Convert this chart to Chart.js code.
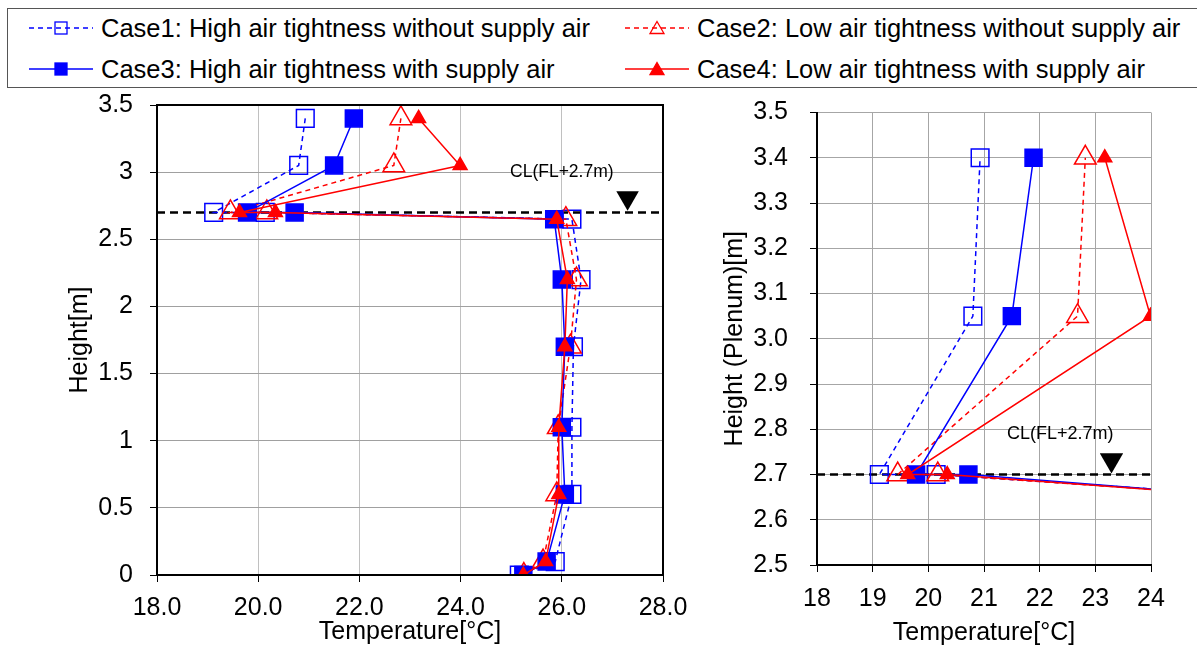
<!DOCTYPE html>
<html>
<head>
<meta charset="utf-8">
<script src="https://cdn.jsdelivr.net/npm/chart.js@4.4.1/dist/chart.umd.min.js"></script>
<style>
  body { margin: 0; background: #fff; width: 1197px; height: 649px; overflow: hidden; position: relative;
         font-family: "Liberation Sans", Arial, sans-serif; }
  #legendBox { position: absolute; left: 7px; top: 8px; width: 1200px; height: 80px;
               border: 1.5px solid #555; box-sizing: border-box; }
  .item { position: absolute; height: 30px; display: flex; align-items: center;
          font-size: 25.5px; color: #000; white-space: nowrap; }
  .item svg { margin-right: 6px; }
  canvas { position: absolute; }
</style>
</head>
<body>
<div id="legendBox"></div>
<div id="legend"></div>
<canvas id="left" width="700" height="559" style="left:0;top:90px"></canvas>
<canvas id="right" width="497" height="559" style="left:700px;top:90px"></canvas>
<script>
// Measurement heights (same for all four cases), bottom to top
const heights = [0, 0.1, 0.6, 1.1, 1.7, 2.2, 2.65, 2.7, 2.7, 3.05, 3.4];

// Temperatures [°C] read per case
const case1Temp = [25.16, 25.87, 26.2, 26.2, 26.23, 26.38, 26.2, 20.14, 19.12, 20.8, 20.93];
const case2Temp = [25.25, 25.63, 25.9, 25.93, 26.17, 26.29, 26.08, 20.17, 19.45, 22.68, 22.82];
const case3Temp = [25.24, 25.7, 26.06, 26.0, 26.06, 26.0, 25.85, 20.72, 19.78, 21.5, 21.89];
const case4Temp = [25.24, 25.68, 25.94, 25.94, 26.06, 26.11, 25.9, 20.34, 19.63, 23.99, 23.17];

const seriesNames = [
    'Case1: High air tightness without supply air',
    'Case2: Low air tightness without supply air',
    'Case3: High air tightness with supply air',
    'Case4: Low air tightness with supply air'
];

// Ceiling level marker
const clHeight = 2.7;
const clLabel = 'CL(FL+2.7m)';

// Axis ticks
const leftXTicks = [18, 20, 22, 24, 26, 28];
const leftYTicks = [0, 0.5, 1, 1.5, 2, 2.5, 3, 3.5];
const rightXTicks = [18, 19, 20, 21, 22, 23, 24];
const rightYTicks = [2.5, 2.6, 2.7, 2.8, 2.9, 3.0, 3.1, 3.2, 3.3, 3.4, 3.5];

const FONT = 'Liberation Sans';
Chart.defaults.font.family = FONT;
Chart.defaults.color = '#000';

// Look of each case
const styles = [
    { color: '#0000ff', dashed: true,  pointStyle: 'rect',     filled: false, radius: 12.5, order: 3 },
    { color: '#ff0000', dashed: true,  pointStyle: 'triangle', filled: false, radius: 12.5, order: 2 },
    { color: '#0000ff', dashed: false, pointStyle: 'rect',     filled: true,  radius: 12,   order: 1 },
    { color: '#ff0000', dashed: false, pointStyle: 'triangle', filled: true,  radius: 8,    order: 0 }
];
const temps = [case1Temp, case2Temp, case3Temp, case4Temp];

function seriesDatasets() {
    return temps.map((t, i) => {
        const s = styles[i];
        return {
            label: seriesNames[i],
            data: t.map((x, k) => ({ x: x, y: heights[k] })),
            showLine: true,
            borderColor: s.color,
            borderWidth: 1.5,
            borderDash: s.dashed ? [5, 4] : [],
            pointStyle: s.pointStyle,
            pointRadius: s.radius,
            pointHoverRadius: s.radius,
            pointBorderWidth: 1.5,
            pointBorderColor: s.color,
            pointBackgroundColor: s.filled ? s.color : 'rgba(255,255,255,0)',
            order: s.order
        };
    });
}

function clDatasets(xMin, xMax, markX, markY, markR) {
    return [
        {
            label: 'CL',
            data: [{ x: xMin, y: clHeight }, { x: xMax, y: clHeight }],
            showLine: true,
            borderColor: '#000',
            borderWidth: 2.5,
            borderDash: [8, 5],
            pointRadius: 0,
            order: 10
        },
        {
            label: 'CL marker',
            data: [{ x: markX, y: markY }],
            pointStyle: 'triangle',
            rotation: 180,
            pointRadius: markR,
            pointBackgroundColor: '#000',
            pointBorderColor: '#000',
            pointBorderWidth: 0,
            order: 9
        }
    ];
}

// Text label for the ceiling level
const clTextPlugin = {
    id: 'clText',
    afterDatasetsDraw(chart, args, opts) {
        const ctx = chart.ctx;
        ctx.save();
        ctx.font = opts.size + 'px "' + FONT + '"';
        ctx.fillStyle = '#000';
        ctx.textAlign = 'center';
        ctx.textBaseline = 'middle';
        ctx.fillText(clLabel, chart.scales.x.getPixelForValue(opts.x), chart.scales.y.getPixelForValue(opts.y));
        ctx.restore();
    }
};

// Black frame around the left plot
const framePlugin = {
    id: 'frame',
    afterDraw(chart, args, opts) {
        if (!opts.on) return;
        const a = chart.chartArea;
        const ctx = chart.ctx;
        ctx.save();
        ctx.strokeStyle = '#000';
        ctx.lineWidth = 2;
        ctx.strokeRect(a.left, a.top, a.right - a.left, a.bottom - a.top);
        ctx.restore();
    }
};

function axes(cfg) {
    const tickFont = { size: 25, family: FONT };
    return {
        x: {
            type: 'linear', min: cfg.xMin, max: cfg.xMax,
            afterBuildTicks: s => { s.ticks = cfg.xTicks.map(v => ({ value: v })); },
            afterFit: s => { s.height = cfg.xHeight; s.paddingLeft = 0; s.paddingRight = 0; },
            ticks: { font: tickFont, color: '#000', padding: cfg.xPad, maxRotation: 0, autoSkip: false,
                     callback: cfg.xFmt },
            grid: { color: cfg.xGrid, lineWidth: 1, tickLength: 7, tickColor: '#000' },
            border: { color: '#000', width: 2 },
            title: { display: true, text: 'Temperature[°C]', font: tickFont, color: '#000',
                     padding: { top: 0, bottom: cfg.xTitlePad } }
        },
        y: {
            type: 'linear', min: cfg.yMin, max: cfg.yMax,
            afterBuildTicks: s => { s.ticks = cfg.yTicks.map(v => ({ value: v })); },
            afterFit: s => { s.width = cfg.yWidth; s.paddingTop = 0; s.paddingBottom = 0; },
            ticks: { font: tickFont, color: '#000', padding: cfg.yPad, autoSkip: false,
                     callback: cfg.yFmt },
            grid: { color: cfg.yGrid, lineWidth: 1, tickLength: 7, tickColor: '#000' },
            border: { color: '#000', width: 2 },
            title: { display: true, text: cfg.yTitle, font: tickFont, color: '#000',
                     padding: { top: cfg.yTitlePad, bottom: 0 } }
        }
    };
}

new Chart(document.getElementById('left'), {
    type: 'scatter',
    data: { datasets: seriesDatasets().concat(clDatasets(18, 28, 27.3, 2.81, 13)) },
    options: {
        responsive: false,
        animation: false,
        layout: { padding: { left: 0, top: 15, right: 37, bottom: 0 } },
        plugins: {
            legend: { display: false },
            tooltip: { enabled: false },
            clText: { x: 26.0, y: 3.0, size: 17.5 },
            frame: { on: true }
        },
        scales: axes({
            xMin: 18, xMax: 28, xTicks: leftXTicks, xFmt: v => v.toFixed(1), xHeight: 74,
            xGrid: '#c0c0c0', xPad: 11, xTitlePad: 2,
            yMin: 0, yMax: 3.5, yTicks: leftYTicks, yFmt: v => String(v), yWidth: 157,
            yGrid: '#a0a0a0', yPad: 17, yTitle: 'Height[m]', yTitlePad: 65
        })
    },
    plugins: [clTextPlugin, framePlugin]
});

new Chart(document.getElementById('right'), {
    type: 'scatter',
    data: { datasets: seriesDatasets().concat(clDatasets(18, 24, 23.29, 2.732, 13.5)) },
    options: {
        responsive: false,
        animation: false,
        layout: { padding: { left: 0, top: 22.5, right: 46, bottom: 0 } },
        plugins: {
            legend: { display: false },
            tooltip: { enabled: false },
            clText: { x: 22.37, y: 2.79, size: 18 },
            frame: { on: false }
        },
        scales: axes({
            xMin: 18, xMax: 24, xTicks: rightXTicks, xFmt: v => String(v), xHeight: 84,
            xGrid: '#a6a6a6', xPad: 12, xTitlePad: 1,
            yMin: 2.5, yMax: 3.5, yTicks: rightYTicks, yFmt: v => v.toFixed(1), yWidth: 117,
            yGrid: '#a6a6a6', yPad: 22, yTitle: 'Height (Plenum)[m]', yTitlePad: 20
        })
    },
    plugins: [clTextPlugin, framePlugin]
});

// HTML legend: two rows, two columns (Case1/Case2 on top, Case3/Case4 below)
function legendSample(s) {
    const dash = s.dashed ? ' stroke-dasharray="5,4"' : '';
    const fill = s.filled ? s.color : 'none';
    let marker;
    if (s.pointStyle === 'rect') {
        marker = '<rect x="26" y="9" width="12" height="12" fill="' + fill + '" stroke="' + s.color + '" stroke-width="1.3"/>';
    } else {
        marker = '<polygon points="32,8.5 39,20.5 25,20.5" fill="' + fill + '" stroke="' + s.color + '" stroke-width="1.3"/>';
    }
    return '<svg width="66" height="30"><line x1="0" y1="15" x2="64" y2="15" stroke="' + s.color +
        '" stroke-width="1.5"' + dash + '/>' + marker + '</svg>';
}
const legendSpots = [
    { left: 29, top: 13 },   // Case1
    { left: 625, top: 13 },  // Case2
    { left: 29, top: 54 },   // Case3
    { left: 625, top: 54 }   // Case4
];
const legendEl = document.getElementById('legend');
seriesNames.forEach((name, i) => {
    const d = document.createElement('div');
    d.className = 'item';
    d.style.left = legendSpots[i].left + 'px';
    d.style.top = legendSpots[i].top + 'px';
    d.innerHTML = legendSample(styles[i]) + '<span>' + name + '</span>';
    legendEl.appendChild(d);
});
</script>
</body>
</html>
